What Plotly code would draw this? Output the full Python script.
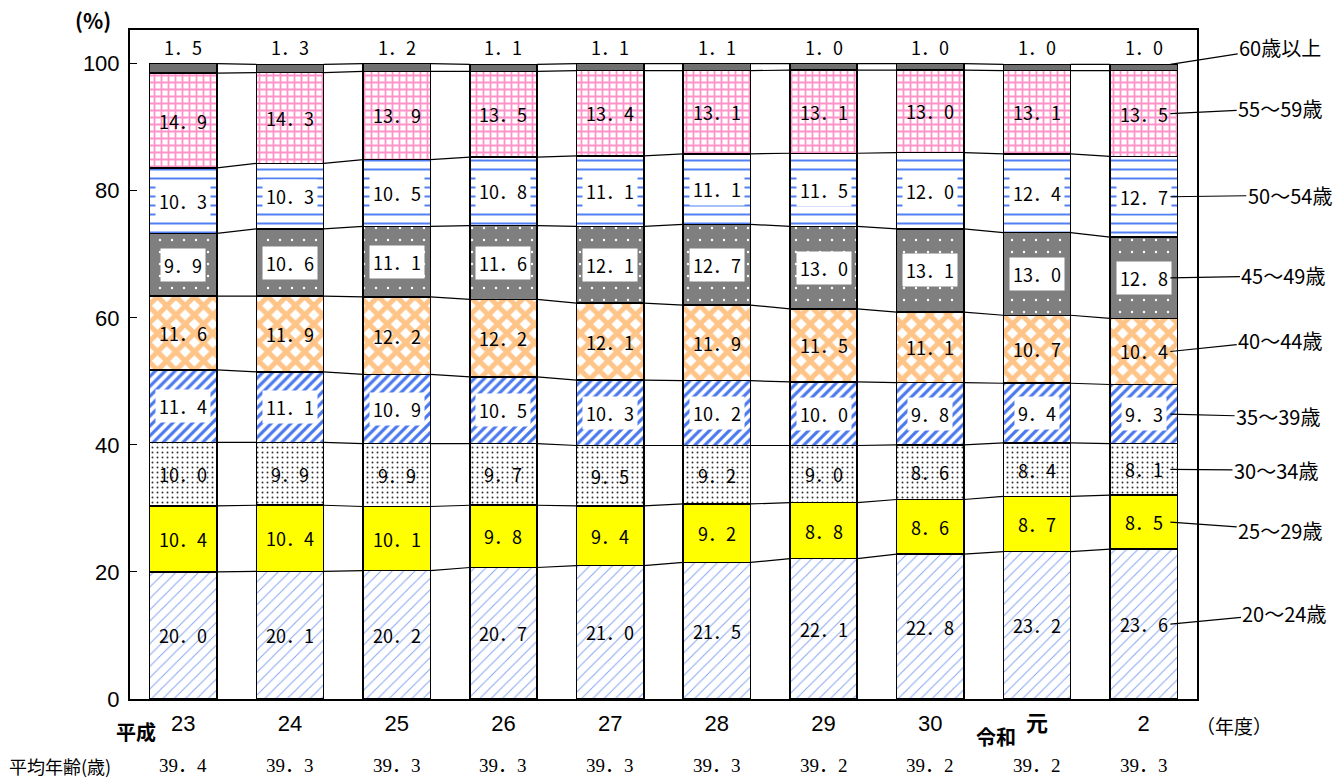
import plotly.graph_objects as go

# data
years = ["23", "24", "25", "26", "27", "28", "29", "30", "元", "2"]
age_groups = ["20～24歳", "25～29歳", "30～34歳", "35～39歳", "40～44歳",
              "45～49歳", "50～54歳", "55～59歳", "60歳以上"]

age_20_24 = [20.0, 20.1, 20.2, 20.7, 21.0, 21.5, 22.1, 22.8, 23.2, 23.6]
age_25_29 = [10.4, 10.4, 10.1, 9.8, 9.4, 9.2, 8.8, 8.6, 8.7, 8.5]
age_30_34 = [10.0, 9.9, 9.9, 9.7, 9.5, 9.2, 9.0, 8.6, 8.4, 8.1]
age_35_39 = [11.4, 11.1, 10.9, 10.5, 10.3, 10.2, 10.0, 9.8, 9.4, 9.3]
age_40_44 = [11.6, 11.9, 12.2, 12.2, 12.1, 11.9, 11.5, 11.1, 10.7, 10.4]
age_45_49 = [9.9, 10.6, 11.1, 11.6, 12.1, 12.7, 13.0, 13.1, 13.0, 12.8]
age_50_54 = [10.3, 10.3, 10.5, 10.8, 11.1, 11.1, 11.5, 12.0, 12.4, 12.7]
age_55_59 = [14.9, 14.3, 13.9, 13.5, 13.4, 13.1, 13.1, 13.0, 13.1, 13.5]
age_60_up = [1.5, 1.3, 1.2, 1.1, 1.1, 1.1, 1.0, 1.0, 1.0, 1.0]
mean_age = [39.4, 39.3, 39.3, 39.3, 39.3, 39.3, 39.2, 39.2, 39.2, 39.3]

series = [age_20_24, age_25_29, age_30_34, age_35_39, age_40_44,
          age_45_49, age_50_54, age_55_59, age_60_up]

# fill styles per group: (shape, fg, bg, size, solidity)
styles = [
    ("/", "#86a4f2", "white", 8, 0.12),
    ("", "#ffff00", "#ffff00", 8, 0.3),
    (".", "#333333", "white", 5, 0.12),
    ("/", "#4a78ee", "white", 7, 0.45),
    ("x", "#ffc488", "white", 13, 0.62),
    (".", "white", "#7f7f7f", 12, 0.03),
    ("-", "#4f7ff2", "white", 9, 0.22),
    ("+", "#ff93c9", "white", 7, 0.45),
    ("", "#707070", "#707070", 8, 0.3),
]
boxed = [False, False, False, True, False, True, True, False, False]

BAR_W = 0.63
xs = list(range(len(years)))


def fmt(v):
    return f"{v:.1f}".replace(".", "．")


fig = go.Figure()

for name, vals, (shape, fg, bg, size, sol) in zip(age_groups, series, styles):
    fig.add_trace(go.Bar(
        x=xs, y=vals, name=name, width=BAR_W,
        marker=dict(color=bg,
                    line=dict(color="black", width=1.5),
                    pattern=dict(shape=shape, fgcolor=fg, bgcolor=bg,
                                 size=size, solidity=sol, fillmode="replace")),
        showlegend=False, hoverinfo="skip",
    ))

# cumulative tops
cum = []
running = [0.0] * len(years)
for vals in series:
    running = [r + v for r, v in zip(running, vals)]
    cum.append(running[:])

# connector lines between bars
lx, ly = [], []
for level in cum:
    for i in range(len(years) - 1):
        lx += [i + BAR_W / 2, i + 1 - BAR_W / 2, None]
        ly += [level[i], level[i + 1], None]
fig.add_trace(go.Scatter(x=lx, y=ly, mode="lines",
                         line=dict(color="black", width=1.2),
                         showlegend=False, hoverinfo="skip"))

lab_font = dict(family="Noto Sans CJK JP", size=18, color="black")
annotations = []

# segment labels
for k, vals in enumerate(series):
    for i, v in enumerate(vals):
        if k == len(series) - 1:
            y = 102.7
            box = None
        else:
            y = cum[k][i] - v / 2
            box = "white" if boxed[k] else None
        annotations.append(dict(x=i, y=y, xref="x", yref="y", text=fmt(v),
                                showarrow=False, font=lab_font,
                                bgcolor=box, borderpad=3))

# right-hand leader labels (text positions in data units)
text_x = [10.32, 10.28, 10.24, 10.26, 10.28, 10.31, 10.37, 10.28, 10.28]
text_y = [13.5, 26.6, 36.0, 44.4, 56.5, 66.6, 79.3, 93.0, 102.6]
last = len(years) - 1
for k, name in enumerate(age_groups):
    if k == len(series) - 1:
        tip_y = cum[k][last]
    else:
        tip_y = cum[k][last] - series[k][last] / 2
    annotations.append(dict(
        x=last + 0.25, y=tip_y, xref="x", yref="y",
        ax=text_x[k], ay=text_y[k], axref="x", ayref="y",
        text=name, showarrow=True, arrowhead=0, arrowwidth=1.2,
        arrowcolor="black", standoff=0,
        font=dict(family="Noto Sans CJK JP", size=20, color="black")))

# mean age row
age_font = dict(family="Liberation Serif, Noto Sans CJK JP", size=19, color="black")
for i, a in enumerate(mean_age):
    annotations.append(dict(x=i, y=-0.1, xref="x", yref="paper", text=fmt(a),
                            showarrow=False, font=age_font, yanchor="middle"))
annotations.append(dict(x=-0.115, y=-0.1, xref="paper", yref="paper",
                        text="平均年齢(歳)", showarrow=False, xanchor="left",
                        yanchor="middle",
                        font=dict(family="Noto Sans CJK JP", size=18, color="black")))

# era and unit labels
misc_font = dict(family="Noto Sans CJK JP", size=20, color="black")
annotations += [
    dict(x=0.0056, y=-0.0493, xref="paper", yref="paper", text="<b>平成</b>",
         showarrow=False, font=misc_font, xanchor="center", yanchor="middle"),
    dict(x=0.8116, y=-0.0568, xref="paper", yref="paper", text="<b>令和</b>",
         showarrow=False, font=misc_font, xanchor="center", yanchor="middle"),
    dict(x=1.0347, y=-0.0389, xref="paper", yref="paper", text="（年度）",
         showarrow=False, xanchor="center", yanchor="middle",
         font=dict(family="Noto Sans CJK JP", size=19, color="black")),
    dict(x=-0.0347, y=1.015, xref="paper", yref="paper", text="<b>(%)</b>",
         showarrow=False, xanchor="center", yanchor="middle",
         font=dict(family="Noto Sans CJK JP", size=21, color="black")),
]

# the era name tick is bold in the original
tick_text = [y if y.isdigit() else f"<b>{y}</b>" for y in years]

tick_family = "Liberation Sans Narrow, Arial Narrow, Liberation Sans, Noto Sans CJK JP"
fig.update_layout(
    barmode="stack",
    width=1343, height=778,
    margin=dict(l=130, r=146, t=30, b=79),
    plot_bgcolor="white", paper_bgcolor="white",
    annotations=annotations,
    xaxis=dict(range=[-0.5, 9.5], tickvals=xs, ticktext=tick_text,
               showline=True, linecolor="black", linewidth=2, mirror=True,
               showgrid=False, ticks="", ticklabelstandoff=4,
               tickfont=dict(family=tick_family, size=22, color="black")),
    yaxis=dict(range=[0, 105.3], tickvals=[0, 20, 40, 60, 80, 100],
               showline=True, linecolor="black", linewidth=2, mirror=True,
               showgrid=False, zeroline=False, ticks="inside", ticklen=7,
               tickcolor="black", tickwidth=1.2, ticklabelstandoff=4,
               tickfont=dict(family=tick_family, size=22, color="black")),
)

# page body has a default margin; drop it so the figure sits at the corner
fig.write_html("out.html", config={"displayModeBar": False},
               post_script="document.body.style.margin='0px';")
